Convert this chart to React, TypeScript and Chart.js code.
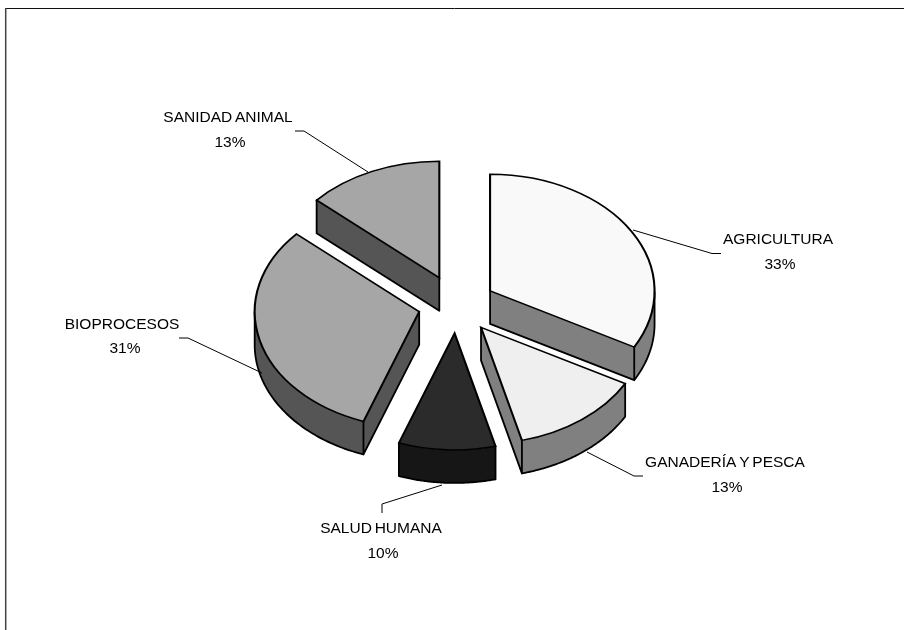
import React, { useEffect, useRef } from "react";
import { Chart, registerables } from "chart.js";

Chart.register(...registerables);

// Data
const categories = ["AGRICULTURA", "GANADERÍA Y PESCA", "SALUD HUMANA", "BIOPROCESOS", "SANIDAD ANIMAL"];
const shares = [33, 13, 9.5, 31.1, 13.4];

// Styles
const topColors = ["#f9f9f9", "#efefef", "#2b2b2b", "#a6a6a6", "#a6a6a6"];
const wallColors = ["#808080", "#808080", "#161616", "#555555", "#555555"];
const explode = [39, 40, 40, 38.5, 42];
const paintOrder = [4, 0, 1, 3, 2];
const TILT = 0.709;
const DEPTH = 33;
const RADIUS = 164.5;
const FONT = '15.5px "Liberation Sans", Arial, sans-serif';

// Label layout, same order as categories
const labelLayout = [
  { nameX: 778, nameY: 240, pctX: 780, pctY: 265, leader: [[633, 230], [712, 253.5], [721, 253.5]] },
  { nameX: 725, nameY: 463, pctX: 727, pctY: 488, leader: [[587, 452], [634, 476], [643, 476]] },
  { nameX: 381, nameY: 529, pctX: 383, pctY: 554, leader: [[442, 485], [382, 504], [382, 513]] },
  { nameX: 122, nameY: 325, pctX: 125, pctY: 349, leader: [[179, 338], [188, 338], [262, 373]] },
  { nameX: 228, nameY: 118, pctX: 230, pctY: 143, leader: [[295, 131], [304, 131], [368, 172]] },
];

function pieGeometry(arc: any, amount: number) {
  const mid = (arc.startAngle + arc.endAngle) / 2;
  const x = arc.x + Math.cos(mid) * amount;
  const y = arc.y + Math.sin(mid) * amount * TILT;
  const point = (a: number) => [x + Math.cos(a) * arc.outerRadius, y + Math.sin(a) * arc.outerRadius * TILT];
  return { x, y, point };
}

const pie3d = {
  id: "pie3d",
  beforeDatasetsDraw(chart: any) {
    const ctx = chart.ctx;
    const arcs = chart.getDatasetMeta(0).data;
    paintOrder.forEach((i) => {
      const arc = arcs[i];
      const { x, y, point } = pieGeometry(arc, explode[i]);
      const steps = 80;
      const outline: number[][] = [[x, y]];
      for (let s = 0; s <= steps; s++) {
        outline.push(point(arc.startAngle + ((arc.endAngle - arc.startAngle) * s) / steps));
      }
      const n = outline.length;
      // a boundary edge shows a wall when it runs leftwards (the outline is clockwise on screen)
      const facing = outline.map((p, k) => outline[(k + 1) % n][0] - p[0] < -1e-6);
      const isCorner = (k: number) => k === 0 || k === 1 || k === n - 1;

      // contiguous runs of wall-showing edges
      const runs: number[][] = [];
      const first = facing.findIndex((f) => !f);
      let run: number[] = [];
      for (let t = 1; t <= n; t++) {
        const k = (first + t) % n;
        if (facing[k]) {
          if (!run.length) run.push(k);
          run.push((k + 1) % n);
        } else if (run.length) {
          runs.push(run);
          run = [];
        }
      }
      if (run.length) runs.push(run);

      ctx.save();
      ctx.lineJoin = "miter";
      ctx.lineCap = "round";
      runs.forEach((r) => {
        // wall fill
        ctx.fillStyle = wallColors[i];
        ctx.beginPath();
        r.forEach((k, j) => (j ? ctx.lineTo(outline[k][0], outline[k][1]) : ctx.moveTo(outline[k][0], outline[k][1])));
        [...r].reverse().forEach((k) => ctx.lineTo(outline[k][0], outline[k][1] + DEPTH));
        ctx.closePath();
        ctx.fill();
        // lower rim and vertical edges
        ctx.strokeStyle = "#000";
        ctx.lineWidth = 1.8;
        ctx.beginPath();
        r.forEach((k, j) =>
          j ? ctx.lineTo(outline[k][0], outline[k][1] + DEPTH) : ctx.moveTo(outline[k][0], outline[k][1] + DEPTH),
        );
        r.forEach((k, j) => {
          if (j === 0 || j === r.length - 1 || isCorner(k)) {
            ctx.moveTo(outline[k][0], outline[k][1]);
            ctx.lineTo(outline[k][0], outline[k][1] + DEPTH);
          }
        });
        ctx.stroke();
      });
      ctx.restore();

      // top face: the chart's own arc, tilted and moved out
      ctx.save();
      ctx.translate(x, y);
      ctx.scale(1, TILT);
      ctx.translate(-arc.x, -arc.y);
      arc.draw(ctx);
      ctx.restore();
    });
    return false;
  },
  afterDraw(chart: any) {
    const ctx = chart.ctx;
    // frame
    ctx.save();
    ctx.strokeStyle = "#111";
    ctx.lineWidth = 1;
    ctx.beginPath();
    ctx.moveTo(5, 8.5);
    ctx.lineTo(904, 8.5);
    ctx.stroke();
    ctx.strokeStyle = "#444";
    ctx.lineWidth = 1.5;
    ctx.beginPath();
    ctx.moveTo(5.7, 8);
    ctx.lineTo(5.7, 630);
    ctx.stroke();

    // leaders
    ctx.strokeStyle = "#000";
    ctx.lineWidth = 1;
    labelLayout.forEach((l) => {
      ctx.beginPath();
      l.leader.forEach((p, k) => (k ? ctx.lineTo(p[0], p[1]) : ctx.moveTo(p[0], p[1])));
      ctx.stroke();
    });

    // labels
    ctx.fillStyle = "#000";
    ctx.font = FONT;
    ctx.textAlign = "center";
    ctx.textBaseline = "middle";
    (ctx as any).wordSpacing = "-1.5px";
    categories.forEach((name, i) => {
      const l = labelLayout[i];
      ctx.fillText(name, l.nameX, l.nameY);
      ctx.fillText(`${Math.round(shares[i])}%`, l.pctX, l.pctY);
    });
    ctx.restore();
  },
};

export default function App() {
  const ref = useRef<HTMLCanvasElement>(null);
  useEffect(() => {
    const chart = new Chart(ref.current as HTMLCanvasElement, {
      type: "pie",
      data: {
        labels: categories,
        datasets: [
          {
            data: shares,
            backgroundColor: topColors,
            borderColor: "#000",
            borderWidth: 2.1,
            borderJoinStyle: "miter",
            hoverOffset: 0,
          },
        ],
      },
      options: {
        responsive: false,
        animation: false,
        events: [],
        radius: RADIUS,
        layout: { padding: { left: 9, bottom: 20 } },
        plugins: { legend: { display: false }, tooltip: { enabled: false } },
      },
      plugins: [pie3d],
    } as any);
    return () => chart.destroy();
  }, []);
  return (
    <div style={{ position: "fixed", left: 0, top: 0, width: 904, height: 630, background: "#fff" }}>
      <canvas ref={ref} width={904} height={630} style={{ display: "block" }} />
    </div>
  );
}
